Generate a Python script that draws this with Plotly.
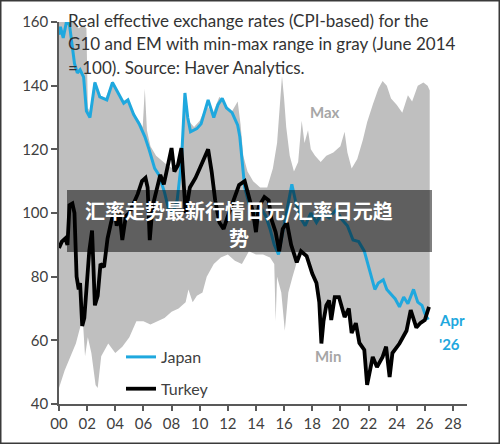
import plotly.graph_objects as go

# ---------------- data (years since 2000) ----------------
max_x = [0.0, 0.5, 1.0, 1.4, 1.7, 1.95, 2.05, 2.2, 2.5, 2.9, 3.3, 3.8, 4.1, 4.5, 4.9, 5.3, 5.7, 5.95,
         6.1, 6.25, 6.5, 6.9, 7.3, 7.7, 8.1, 8.5, 8.8, 8.95, 9.2, 9.6, 10.0, 10.5, 10.9, 11.4, 11.8,
         12.3, 12.7, 12.9, 13.1, 13.4, 13.8, 14.3, 14.8, 15.2, 15.5, 15.7, 15.85, 16.0, 16.15, 16.4,
         16.7, 17.0, 17.25, 17.45, 17.7, 17.9, 18.2, 18.6, 19.0, 19.5, 20.0, 20.3, 20.5, 20.8, 21.2,
         21.6, 21.9, 22.3, 22.7, 23.0, 23.3, 23.6, 24.0, 24.4, 24.8, 25.1, 25.5, 25.9, 26.2, 26.35]
max_v = [162, 163, 161, 158, 159, 158, 133, 132, 141.5, 137, 136, 141.5, 138.5, 135, 136, 131, 129, 127,
         139, 126, 121, 118, 116.5, 115, 114, 116, 125, 138, 129, 127, 129, 134, 131, 136.5, 134,
         132, 135, 128, 118, 113, 110, 108, 108, 114, 122, 135, 143, 136, 127, 118,
         113, 116, 129, 122, 126, 120, 118, 116, 118, 119, 121, 125.5, 119, 114, 117,
         123, 128.5, 134, 139, 141.5, 140, 136, 134, 131.5, 137, 135, 140, 141, 140, 138.5]

min_x = [0.0, 0.4, 0.8, 1.2, 1.5, 1.7, 1.85, 2.05, 2.3, 2.6, 2.75, 3.0, 3.5, 4.0, 4.5, 5.0, 5.5, 6.0,
         6.5, 7.0, 7.5, 8.0, 8.5, 9.0, 9.2, 9.5, 9.8, 10.2, 10.5, 11.0, 11.5, 12.0, 12.5, 13.0, 13.5,
         14.0, 14.5, 15.0, 15.3, 15.4, 15.5, 15.8, 16.05, 16.3, 16.6, 16.9, 17.2, 17.6, 18.0, 18.3,
         18.5, 18.65, 18.8, 19.0, 19.2, 19.35, 19.6, 19.9, 20.3, 20.6, 20.8, 21.1, 21.35, 21.7, 21.9,
         22.3, 22.6, 23.0, 23.25, 23.5, 23.7, 24.2, 24.7, 25.0, 25.4, 25.7, 26.0, 26.35]
min_v = [45, 50.5, 55, 59, 64, 66, 55, 61, 56, 46, 45, 55, 59, 56, 58, 61, 66, 66,
         65, 66, 67, 69, 70, 72, 76, 72, 74, 75, 80, 84, 86, 87, 85, 84, 88,
         87, 87, 86, 84, 66, 80, 75, 63, 75, 80, 84.5, 88, 86.5, 81, 78,
         72, 59, 66, 71, 72.5, 66.4, 73.6, 73.6, 67.3, 70, 62.3, 65.4, 59.2, 57, 46,
         54.8, 51.6, 54.8, 58, 48.5, 56, 59, 63, 69.5, 64, 65.5, 66.4, 70.5]

japan_x = [0.0, 0.1, 0.3, 0.55, 0.75, 0.95, 1.1, 1.3, 1.5, 1.75, 1.95, 2.2, 2.55, 2.9, 3.4, 3.8, 4.2,
           4.6, 4.9, 5.3, 5.7, 6.1, 6.4, 6.8, 7.1, 7.5, 7.8, 8.1, 8.4, 8.7, 8.95, 9.15, 9.35, 9.8,
           10.1, 10.4, 10.6, 11.0, 11.3, 11.6, 11.9, 12.3, 12.7, 12.85, 13.0, 13.2, 13.5, 13.9, 14.3,
           14.7, 15.0, 15.3, 15.6, 15.9, 16.2, 16.55, 16.8, 17.1, 17.5, 17.9, 18.3, 18.7, 19.2, 19.7,
           20.1, 20.5, 20.9, 21.3, 21.7, 22.0, 22.2, 22.45, 22.7, 23.05, 23.3, 23.6, 23.9, 24.2, 24.5,
           24.8, 25.2, 25.5, 25.8, 26.0, 26.25]
japan_v = [156, 158.5, 155, 160.5, 159, 152, 147, 144, 145, 142.7, 132, 130, 141, 136.5, 135.5, 141, 137.7,
           134.5, 135.5, 131, 128, 124, 120, 114, 112, 106.5, 101, 100, 104, 116, 137.7, 130, 125.5, 126.5,
           128, 132.5, 135.5, 130, 134, 136, 133, 131.5, 127.6, 124, 117, 108, 103, 100, 102,
           99, 95, 90, 87, 94, 101, 109, 104, 99, 96, 100, 97, 100, 98.5, 101,
           98, 96, 91.5, 91, 88, 83, 80, 76, 78, 79, 76, 74.5, 73, 70.5, 73.6,
           71.5, 76, 72, 71, 68.5, 66.5]

turkey_x = [0.0, 0.2, 0.45, 0.6, 0.75, 0.95, 1.1, 1.25, 1.4, 1.5, 1.65, 1.8, 1.95, 2.15, 2.35, 2.55, 2.75,
            2.95, 3.2, 3.45, 3.7, 3.95, 4.1, 4.3, 4.5, 4.75, 5.0, 5.3, 5.6, 5.9, 6.15, 6.3, 6.45, 6.65,
            6.95, 7.2, 7.45, 7.75, 8.0, 8.2, 8.45, 8.7, 8.85, 9.0, 9.3, 9.7, 10.0, 10.3, 10.6, 10.85,
            11.1, 11.4, 11.7, 12.0, 12.4, 12.8, 13.2, 13.55, 13.8, 14.0, 14.2, 14.6, 14.9, 15.1, 15.4,
            15.65, 15.9, 16.2, 16.5, 16.9, 17.2, 17.6, 18.0, 18.3, 18.5, 18.65, 18.8, 19.0, 19.2, 19.35,
            19.6, 19.9, 20.3, 20.6, 20.8, 21.1, 21.35, 21.7, 21.9, 22.3, 22.6, 23.0, 23.25, 23.5, 23.7,
            24.2, 24.7, 25.0, 25.4, 25.7, 26.0, 26.3]
turkey_v = [89, 91, 92, 90, 102.5, 103, 100, 80, 76, 78, 64.5, 67, 76, 88, 94.5, 71, 74,
            84, 83, 92, 97, 101, 96, 100, 91.5, 99, 100, 103, 106, 110, 111, 108, 91.5, 102,
            107, 112, 109, 115, 120.4, 113, 115, 120.4, 112, 100, 108, 111, 114, 117, 120, 113,
            104, 97, 95, 99, 104, 108.8, 110, 104, 100, 94, 102, 105, 104, 98, 94,
            88, 95, 97, 90, 84.5, 88, 86.5, 81, 78, 72, 59, 66, 71, 72.5, 66.4,
            73.6, 73.6, 67.3, 70, 62.3, 65.4, 59.2, 57, 46, 54.8, 51.6, 54.8, 58, 48.5, 56,
            59, 63, 69.5, 64, 65.5, 66.4, 70.5]

x_ticks = [0, 2, 4, 6, 8, 10, 12, 14, 16, 18, 20, 22, 24, 26, 28]
x_tick_labels = ["00", "02", "04", "06", "08", "10", "12", "14", "16", "18", "20", "22", "24", "26", "28"]
y_ticks = [40, 60, 80, 100, 120, 140, 160]

title_lines = ["Real effective exchange rates (CPI-based) for the",
               "G10 and EM with min-max range in gray (June 2014",
               "= 100). Source: Haver Analytics."]
banner_lines = ["汇率走势最新行情日元/汇率日元趋", "势"]

# ---------------- layout geometry ----------------
W, H = 500, 444
L, R, T, B = 59, 33, 22, 40
PW, PH = W - L - R, H - T - B


def px(x):
    return (x - L) / PW


def py(y):
    return (H - B - y) / PH


BLUE = "#1fa8de"
GRAY = "#bfbfbf"
TXT = "#404040"

fig = go.Figure()

fig.add_trace(go.Scatter(
    x=max_x + min_x[::-1], y=max_v + min_v[::-1],
    fill="toself", fillcolor=GRAY, line=dict(width=0), mode="lines",
    showlegend=False, hoverinfo="skip"))

fig.add_trace(go.Scatter(x=japan_x, y=japan_v, mode="lines", name="Japan",
                         line=dict(color=BLUE, width=3), legendgroup="a"))
fig.add_trace(go.Scatter(x=turkey_x, y=turkey_v, mode="lines", name="Turkey",
                         line=dict(color="#000000", width=3.8), legendgroup="b"))

ann = []
for i, t in enumerate(title_lines):
    ann.append(dict(x=px(66), y=py([20, 43.5, 67][i]), xref="paper", yref="paper", text=t,
                    showarrow=False, xanchor="left", yanchor="middle",
                    font=dict(family="Lato", size=17, color="#333333")))
ann.append(dict(x=px(325), y=py(101), xref="paper", yref="paper", text="<b>Max</b>", showarrow=False,
                font=dict(family="Lato", size=15, color="#a6a6a6")))
ann.append(dict(x=px(328), y=py(367), xref="paper", yref="paper", text="<b>Min</b>", showarrow=False,
                font=dict(family="Lato", size=15, color="#a6a6a6")))
ann.append(dict(x=px(437), y=py(331), xref="paper", yref="paper", text="<b>Apr</b>", showarrow=False,
                xanchor="left", font=dict(family="Lato", size=15, color=BLUE)))
ann.append(dict(x=px(437), y=py(355), xref="paper", yref="paper", text="<b>'26</b>", showarrow=False,
                xanchor="left", font=dict(family="Lato", size=15, color=BLUE)))
ann.append(dict(x=px(239), y=py(210), xref="paper", yref="paper",
                text="<b>" + banner_lines[0] + "</b>", showarrow=False, borderpad=0,
                font=dict(family="Noto Sans CJK SC", size=20, color="white")))
ann.append(dict(x=px(239), y=py(237.5), xref="paper", yref="paper",
                text="<b>" + banner_lines[1] + "</b>", showarrow=False, borderpad=0,
                font=dict(family="Noto Sans CJK SC", size=20, color="white")))

shapes = [
    dict(type="rect", xref="paper", yref="paper", x0=px(67), x1=px(432), y0=py(252), y1=py(190),
         fillcolor="rgba(0,0,0,0.5)", line=dict(width=0), layer="above"),
    dict(type="rect", xref="paper", yref="paper", x0=px(0.5), x1=px(499.5), y0=py(443.5), y1=py(0.5),
         line=dict(color="#3a3a3a", width=2), fillcolor="rgba(0,0,0,0)", layer="above"),
]

fig.update_layout(
    width=W, height=H, margin=dict(l=L, r=R, t=T, b=B),
    paper_bgcolor="white", plot_bgcolor="white",
    font=dict(family="Lato", color=TXT, size=15),
    showlegend=True,
    legend=dict(x=px(121), y=py(373), xanchor="left", yanchor="middle",
                bgcolor="rgba(0,0,0,0)", font=dict(size=16, color=TXT),
                tracegroupgap=8, itemwidth=30),
    annotations=ann, shapes=shapes,
    xaxis=dict(range=[0, 29], tickvals=x_ticks, ticktext=x_tick_labels, showgrid=False, zeroline=False,
               showline=True, linecolor="#595959", linewidth=1.5, ticks="outside", ticklen=5,
               tickcolor="#595959", tickwidth=1.5, tickfont=dict(size=15, color=TXT)),
    yaxis=dict(range=[40, 160], tickvals=y_ticks, showgrid=False, zeroline=False,
               showline=True, linecolor="#595959", linewidth=1.5, ticks="outside", ticklen=6,
               tickcolor="#595959", tickwidth=1.5, tickfont=dict(size=15, color=TXT)),
)

fig.write_html("out.html")
